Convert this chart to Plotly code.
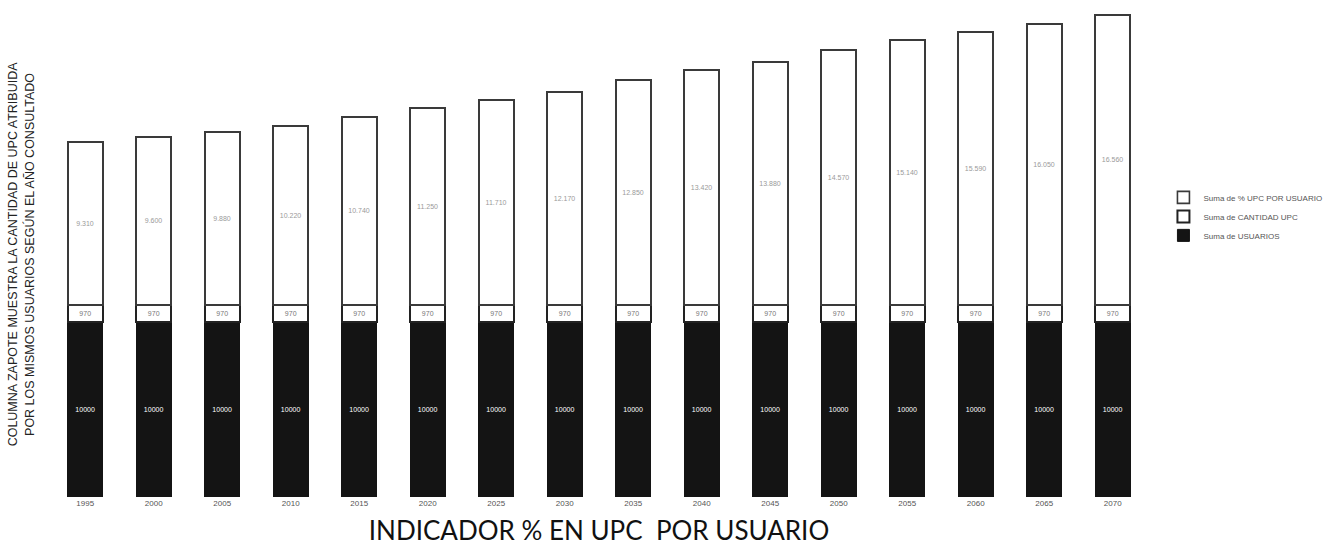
import plotly.graph_objects as go

# Años consultados
anios = ["1995", "2000", "2005", "2010", "2015", "2020", "2025", "2030",
         "2035", "2040", "2045", "2050", "2055", "2060", "2065", "2070"]

# Series apiladas
usuarios = [10000] * 16
cantidad_upc = [970, 970, 970, 970, 970, 970, 970, 970,
                970, 970, 970, 970, 970, 970, 970, 970]
pct_upc_usuario = [9310, 9600, 9880, 10220, 10740, 11250, 11710, 12170,
                   12850, 13420, 13880, 14570, 15140, 15590, 16050, 16560]

fig = go.Figure()

fig.add_trace(go.Bar(
    x=anios, y=usuarios, name="Suma de USUARIOS",
    marker=dict(color="#141414", line=dict(color="#141414", width=1)),
    text=[str(v) for v in usuarios], textposition="inside",
    insidetextanchor="middle",
    textfont=dict(color="#ffffff", size=10, family="Liberation Sans"),
))
fig.add_trace(go.Bar(
    x=anios, y=cantidad_upc, name="Suma de CANTIDAD UPC",
    marker=dict(color="#ffffff", line=dict(color="#222222", width=2)),
    text=[f"{v:,}".replace(",", ".") for v in cantidad_upc], textposition="inside",
    insidetextanchor="middle",
    textfont=dict(color="#777777", size=7, family="Liberation Sans"),
))
fig.add_trace(go.Bar(
    x=anios, y=pct_upc_usuario, name="Suma de % UPC POR USUARIO",
    marker=dict(color="#ffffff", line=dict(color="#3a3a3a", width=1.6)),
    text=[f"{v:,}".replace(",", ".") for v in pct_upc_usuario], textposition="inside",
    insidetextanchor="middle",
    textfont=dict(color="#9a9a9a", size=8, family="Liberation Sans"),
))

fig.update_layout(
    barmode="stack",
    bargap=0.49,
    width=1342, height=556,
    margin=dict(l=51, r=195, t=10, b=59),
    paper_bgcolor="#ffffff", plot_bgcolor="#ffffff",
    showlegend=True,
    legend=dict(
        traceorder="reversed",
        x=1.015, y=0.645, xanchor="left", yanchor="top",
        font=dict(size=8, color="#555555", family="Liberation Sans"),
        itemwidth=30, tracegroupgap=0,
    ),
    uniformtext=dict(minsize=6, mode="show"),
)

fig.update_xaxes(
    showgrid=False, showline=False, zeroline=False, ticks="",
    tickfont=dict(size=8, color="#555555", family="Liberation Sans"),
    title=dict(text="INDICADOR % EN UPC  POR USUARIO",
               font=dict(size=26, color="#111111", family="Lato"), standoff=14),
)
fig.update_yaxes(
    range=[0, 27830], showgrid=False, showline=False, zeroline=False,
    showticklabels=False, ticks="",
)

fig.add_annotation(
    text="COLUMNA ZAPOTE MUESTRA LA CANTIDAD DE UPC ATRIBUIDA<br>"
         "POR LOS MISMOS USUARIOS SEGÚN EL AÑO CONSULTADO",
    xref="paper", yref="paper", x=-0.043, y=0.5,
    xanchor="left", yanchor="middle", textangle=-90, showarrow=False,
    font=dict(size=12.5, color="#222222", family="Liberation Sans"),
)

fig.write_html("out.html")
